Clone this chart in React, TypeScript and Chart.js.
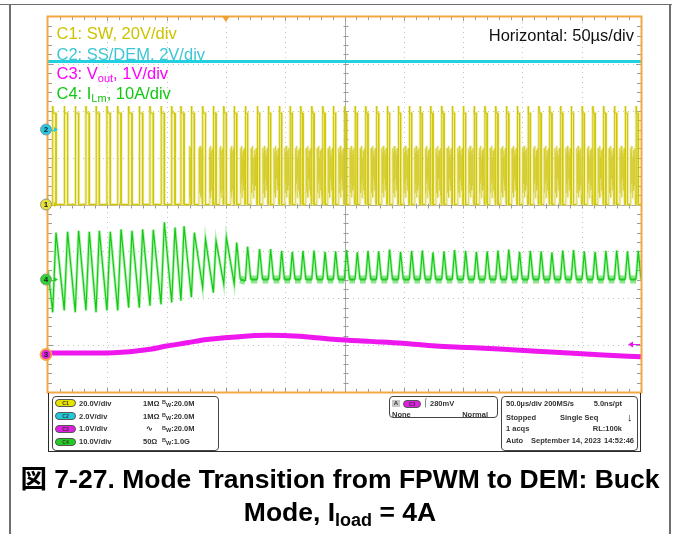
import React, { useEffect, useRef } from "react";
import { Chart, registerables } from "chart.js";
Chart.register(...registerables);

// ---------------- data ----------------
// time axis: 0..500 us (10 div x 50 us)
const pulseTimesUs = [
  3.96, 13.7, 23.0, 32.0, 40.5, 49.7, 58.8, 68.0, 77.0, 86.0,
  95.3, 104.3, 112.1, 120.9, 130.4, 139.4, 148.2, 157.0, 166.4, 176.5,
  185.8, 195.1, 204.1, 213.1, 222.4, 231.7, 240.6, 249.9, 258.9, 267.9,
  276.9, 286.1, 295.4, 304.7, 313.7, 322.7, 332.0, 340.9, 350.2, 359.3,
  368.4, 377.5, 386.6, 395.7, 404.8, 413.9, 423.0, 432.1, 441.2, 450.3,
  459.4, 468.5, 477.6, 486.7, 495.8,
];
const swOnUs = [
  2.8, 2.8, 2.8, 2.8, 2.8, 2.8, 2.8, 2.8, 2.8, 2.8,
  2.8, 2.8, 2.6, 2.5, 2.4, 2.3, 2.2, 2.1, 1.9, 1.9,
  1.9, 1.9, 1.9, 1.9, 1.9, 1.9, 1.9, 1.9, 1.9, 1.9,
  1.9, 1.9, 1.9, 1.9, 1.9, 1.9, 1.9, 1.9, 1.9, 1.9,
  1.9, 1.9, 1.9, 1.9, 1.9, 1.9, 1.9, 1.9, 1.9, 1.9,
  1.9, 1.9, 1.9, 1.9, 1.9,
];
const ilmPeakA = [
  10.0, 10.2, 10.4, 10.2, 10.4, 10.2, 10.7, 10.4, 10.7, 10.6,
  12.2, 11.1, 11.4, 10.0, 8.6, 8.2, 9.0, 7.9, 7.0, 6.5,
  6.5, 6.1, 5.9, 6.1, 6.2, 5.9, 6.0, 6.3, 5.8, 6.1,
  6.0, 6.4, 5.9, 6.1, 6.2, 5.8, 6.0, 6.3, 6.1, 5.9,
  6.0, 6.2, 6.4, 5.9, 6.1, 6.0, 5.8, 6.2, 6.3, 6.0,
  5.9, 6.1, 6.2, 6.0, 6.1,
];
const ilmValleyA = [
  -7.0, -6.6, -7.0, -6.6, -7.0, -6.6, -6.6, -6.0, -6.0, -5.6,
  -5.3, -4.9, -4.5, -3.8, -1.7, -2.8, -1.0, -1.0, -0.3, 0,
  0, 0, 0, 0, 0, 0, 0, 0, 0, 0,
  0, 0, 0, 0, 0, 0, 0, 0, 0, 0,
  0, 0, 0, 0, 0, 0, 0, 0, 0, 0,
  0, 0, 0, 0, 0,
];
const ilmStartA = 2.0;
const ilmFallAPerUs = 2.6;
const swHighV = 39;
const swEdgeV = 42;
const swRingV = [24, 5, 22, 9, 25, 3, 20, 11, 23, 6, 21, 8, 24, 4];
const ssDemLevelV = 2.9;
const voutTimesUs = [0, 44, 69, 86, 100, 117, 134, 156, 185, 212, 243, 271, 299, 327, 355, 384, 412, 439, 468, 500];
const voutV = [0.03, 0.03, 0.06, 0.11, 0.18, 0.25, 0.32, 0.37, 0.41, 0.39, 0.32, 0.28, 0.24, 0.18, 0.15, 0.11, 0.07, 0.03, -0.01, -0.05];
const timeSpanUs = 500;
const usPerDiv = 50;
const c1VPerDiv = 20;
const c2VPerDiv = 2;
const c3VPerDiv = 1;
const c4APerDiv = 10;
const c1PosDiv = 0;
const c2PosDiv = 1.6;
const c3PosDiv = -3.2;
const c4PosDiv = -1.6;
const triggerTimeUs = 150;
const trigArrowV = 0.22;

// labels
const chanBadges = ["C1", "C2", "C3", "C4"];
const chanScales = ["20.0V/div", "2.0V/div", "1.0V/div", "10.0V/div"];
const chanImp = ["1MΩ", "1MΩ", "∿", "50Ω"];
const chanBw = ["20.0M", "20.0M", "20.0M", "1.0G"];

// ---------------- styling ----------------
const FONT = "'Liberation Sans', Arial, Helvetica, sans-serif";
const COL = {
  c1: "#cfc600",
  c1Glow: "rgba(226,220,90,0.5)",
  c1Ring: "rgba(212,204,40,0.6)",
  c1RingGlow: "rgba(232,228,130,0.5)",
  c2: "#22d0e0",
  c3: "#ee18ee",
  c4: "#14c814",
  c4Glow: "rgba(110,232,110,0.5)",
  c4Flat: "rgba(50,210,50,0.55)",
  border: "#f2a742",
};

type P = { x: number; y: number; ring?: boolean; flat?: boolean };

function buildSw(): P[] {
  const pts: P[] = [{ x: 0, y: 0 }];
  const n = pulseTimesUs.length;
  for (let k = 0; k < n; k++) {
    const t = pulseTimesUs[k];
    const on = swOnUs[k];
    const next = k + 1 < n ? pulseTimesUs[k + 1] : timeSpanUs + 9;
    const vNext = k + 1 < n ? ilmValleyA[k + 1] : 0;
    pts.push({ x: t, y: 0 }, { x: t, y: swEdgeV }, { x: t + 0.4, y: swHighV }, { x: t + on, y: swHighV }, { x: t + on, y: 0 });
    if (vNext > -4) {
      const tz = t + on + ilmPeakA[k] / ilmFallAPerUs;
      const tEnd = next - 0.4;
      if (tz < tEnd) {
        pts.push({ x: tz, y: 0 });
        const m = swRingV.length;
        for (let i = 0; i < m; i++) pts.push({ x: tz + ((tEnd - tz) * (i + 1)) / (m + 1), y: swRingV[i], ring: true });
        pts.push({ x: tEnd, y: 0, ring: true });
      }
    }
    if (k === n - 1) pts.push({ x: next, y: 0 });
  }
  return pts.map((p) => ({ ...p, y: p.y / c1VPerDiv + c1PosDiv }));
}

function buildIlm(): P[] {
  const pts: P[] = [{ x: 0, y: ilmStartA }];
  const n = pulseTimesUs.length;
  for (let k = 0; k < n; k++) {
    const t = pulseTimesUs[k];
    const on = swOnUs[k];
    const peak = ilmPeakA[k];
    const next = k + 1 < n ? pulseTimesUs[k + 1] : timeSpanUs + 9;
    const vNext = k + 1 < n ? ilmValleyA[k + 1] : 0;
    pts.push({ x: t, y: ilmValleyA[k] }, { x: t + on, y: peak });
    if (vNext > -0.5) {
      const tz = t + on + peak / ilmFallAPerUs;
      pts.push({ x: tz, y: 0, flat: true });
      if (k === n - 1) pts.push({ x: next, y: 0 });
    } else if (k === n - 1) {
      pts.push({ x: next, y: vNext });
    }
  }
  return pts.map((p) => ({ ...p, y: p.y / c4APerDiv + c4PosDiv }));
}

function buildVout(): P[] {
  return voutTimesUs.map((t, i) => ({ x: t, y: voutV[i] / c3VPerDiv + c3PosDiv }));
}

function buildSs(): P[] {
  return [0, timeSpanUs].map((t) => ({ x: t, y: ssDemLevelV / c2VPerDiv + c2PosDiv }));
}

const scopePlugin = {
  id: "scopeDecor",
  beforeDatasetsDraw(chart: any) {
    const { ctx, chartArea: a, scales } = chart;
    const xs = scales.x;
    const ys = scales.y;
    const px = (v: number) => Math.round(xs.getPixelForValue(v)) + 0.5;
    const py = (v: number) => Math.round(ys.getPixelForValue(v)) + 0.5;
    ctx.save();
    ctx.fillStyle = "#ffffff";
    ctx.fillRect(a.left, a.top, a.right - a.left, a.bottom - a.top);
    ctx.lineWidth = 1;
    ctx.strokeStyle = "#c2c2c2";
    ctx.setLineDash([1, 4]);
    for (let i = 1; i < 10; i++) {
      if (i === 5) continue;
      const x = px(i * usPerDiv);
      ctx.beginPath(); ctx.moveTo(x, a.top); ctx.lineTo(x, a.bottom); ctx.stroke();
    }
    for (let j = -3; j <= 3; j++) {
      if (j === 0) continue;
      const y = py(j);
      ctx.beginPath(); ctx.moveTo(a.left, y); ctx.lineTo(a.right, y); ctx.stroke();
    }
    ctx.setLineDash([]);
    ctx.strokeStyle = "#a8a8a8";
    const cx = px(5 * usPerDiv);
    const cy = py(0);
    ctx.beginPath(); ctx.moveTo(cx, a.top); ctx.lineTo(cx, a.bottom); ctx.stroke();
    ctx.beginPath(); ctx.moveTo(a.left, cy); ctx.lineTo(a.right, cy); ctx.stroke();
    // ticks
    ctx.strokeStyle = "#9a9a9a";
    for (let m = 1; m < 50; m++) {
      const x = px(m * usPerDiv / 5);
      const major = m % 5 === 0;
      const L = major ? 4 : 3;
      ctx.beginPath();
      ctx.moveTo(x, cy - 2); ctx.lineTo(x, cy + 3);
      ctx.moveTo(x, a.top); ctx.lineTo(x, a.top + L);
      ctx.moveTo(x, a.bottom); ctx.lineTo(x, a.bottom - L);
      ctx.stroke();
    }
    for (let m = -19; m < 20; m++) {
      if (m === 0) continue;
      const y = py(m / 5);
      const major = m % 5 === 0;
      const L = major ? 5 : 4;
      ctx.beginPath();
      ctx.moveTo(cx - 2, y); ctx.lineTo(cx + 3, y);
      ctx.moveTo(a.left, y); ctx.lineTo(a.left + L, y);
      ctx.moveTo(a.right, y); ctx.lineTo(a.right - L, y);
      ctx.stroke();
    }
    ctx.restore();
  },
  afterDatasetsDraw(chart: any) {
    const { ctx, chartArea: a, scales } = chart;
    const xs = scales.x;
    const ys = scales.y;
    ctx.save();
    // orange frame
    ctx.strokeStyle = COL.border;
    ctx.lineWidth = 2;
    ctx.strokeRect(a.left - 0.5, a.top - 0.5, a.right - a.left + 1, a.bottom - a.top + 1);
    // trigger position marker
    const tx = xs.getPixelForValue(triggerTimeUs);
    ctx.fillStyle = "#f0a030";
    ctx.beginPath();
    ctx.moveTo(tx - 4, a.top - 1); ctx.lineTo(tx + 4, a.top - 1); ctx.lineTo(tx, a.top + 5); ctx.closePath(); ctx.fill();
    // trigger level arrow (C3)
    const ty = Math.round(ys.getPixelForValue(trigArrowV / c3VPerDiv + c3PosDiv)) + 0.5;
    ctx.strokeStyle = "#ee18ee";
    ctx.fillStyle = "#ee18ee";
    ctx.lineWidth = 1;
    ctx.beginPath(); ctx.moveTo(a.right - 1, ty); ctx.lineTo(a.right - 10, ty); ctx.stroke();
    ctx.beginPath(); ctx.moveTo(a.right - 13, ty); ctx.lineTo(a.right - 8, ty - 3); ctx.lineTo(a.right - 8, ty + 3); ctx.closePath(); ctx.fill();
    // channel markers
    const marks = [
      { pos: c2PosDiv, fill: "#27c9e0", ring: "#8a9aa0", lab: "2", arrow: "#27c9e0" },
      { pos: c1PosDiv, fill: "#e6e23a", ring: "#9a9a80", lab: "1", arrow: "#d0c800" },
      { pos: c4PosDiv, fill: "#2fd32f", ring: "#8a9a8a", lab: "4", arrow: "#22cc22" },
      { pos: c3PosDiv, fill: "#e422e4", ring: "#f2a742", lab: "3", arrow: "" },
    ];
    for (const mk of marks) {
      const y = ys.getPixelForValue(mk.pos);
      const x = a.left - 2;
      if (mk.arrow) {
        ctx.strokeStyle = mk.arrow; ctx.fillStyle = mk.arrow; ctx.lineWidth = 1;
        ctx.beginPath(); ctx.moveTo(x + 5, Math.round(y) + 0.5); ctx.lineTo(x + 9, Math.round(y) + 0.5); ctx.stroke();
        ctx.beginPath(); ctx.moveTo(x + 12, y); ctx.lineTo(x + 8, y - 2.5); ctx.lineTo(x + 8, y + 2.5); ctx.closePath(); ctx.fill();
      }
      ctx.beginPath(); ctx.arc(x, y, 5.5, 0, Math.PI * 2);
      ctx.fillStyle = mk.fill; ctx.fill();
      ctx.lineWidth = mk.lab === "3" ? 1.8 : 1; ctx.strokeStyle = mk.ring; ctx.stroke();
      ctx.fillStyle = "#1a1a2a"; ctx.font = `bold 8px ${FONT}`; ctx.textAlign = "center"; ctx.textBaseline = "middle";
      ctx.fillText(mk.lab, x, y + 0.5);
    }
    ctx.restore();
  },
};

function Txt(props: { x: number; cy: number; fs: number; color?: string; bold?: boolean; right?: boolean; children: any }) {
  const { x, cy, fs, color = "#222", bold = false, right = false, children } = props;
  const style: any = {
    position: "absolute",
    top: cy - fs / 2,
    fontSize: fs,
    lineHeight: `${fs}px`,
    fontFamily: FONT,
    fontWeight: bold ? 700 : 400,
    color,
    whiteSpace: "nowrap",
  };
  if (right) style.right = 676 - x;
  else style.left = x;
  return <div style={style}>{children}</div>;
}

function Badge(props: { x: number; cy: number; w: number; color: string; label: string }) {
  const { x, cy, w, color, label } = props;
  return (
    <div
      style={{
        position: "absolute", left: x, top: cy - 4, width: w, height: 8, borderRadius: 4,
        background: color, border: "0.5px solid #555", boxSizing: "border-box",
        fontFamily: FONT, fontSize: 5, lineHeight: "7px", fontWeight: 700, color: "#333", textAlign: "center",
      }}
    >
      {label}
    </div>
  );
}

export default function App() {
  const ref = useRef<HTMLCanvasElement | null>(null);
  useEffect(() => {
    if (!ref.current) return;
    const sw = buildSw();
    const ilm = buildIlm();
    const vout = buildVout();
    const ss = buildSs();
    const chart = new Chart(ref.current, {
      type: "scatter",
      data: {
        datasets: [
          { data: vout, showLine: true, borderColor: COL.c3, borderWidth: 5, pointRadius: 0, tension: 0.4, cubicInterpolationMode: "monotone" } as any,
          { data: ss, showLine: true, borderColor: COL.c2, borderWidth: 3, pointRadius: 0 } as any,
          {
            data: ilm, showLine: true, borderColor: COL.c4, borderWidth: 1.2, pointRadius: 0, parsing: false,
            segment: {
              borderColor: (c: any) => (ilm[c.p0DataIndex].flat ? "#1ec81e" : COL.c4),
              borderWidth: (c: any) => (ilm[c.p0DataIndex].flat ? 2 : 1.2),
            },
          } as any,
          {
            data: ilm, showLine: true, borderColor: COL.c4Glow, borderWidth: 3, pointRadius: 0, parsing: false,
            segment: {
              borderColor: (c: any) => (ilm[c.p0DataIndex].flat ? COL.c4Flat : COL.c4Glow),
              borderWidth: (c: any) => (ilm[c.p0DataIndex].flat ? 8 : 3),
            },
          } as any,
          {
            data: sw, showLine: true, borderColor: COL.c1, borderWidth: 1, pointRadius: 0, parsing: false,
            segment: { borderColor: (c: any) => (sw[c.p1DataIndex].ring ? COL.c1Ring : COL.c1) },
          } as any,
          {
            data: sw, showLine: true, borderColor: COL.c1Glow, borderWidth: 3, pointRadius: 0, parsing: false,
            segment: { borderColor: (c: any) => (sw[c.p1DataIndex].ring ? COL.c1RingGlow : COL.c1Glow) },
          } as any,
        ],
      },
      options: {
        animation: false,
        responsive: false,
        maintainAspectRatio: false,
        devicePixelRatio: 1,
        events: [],
        layout: { padding: { left: 48, top: 17, right: 35, bottom: 142 } },
        plugins: { legend: { display: false }, tooltip: { enabled: false } },
        scales: {
          x: { type: "linear", min: 0, max: timeSpanUs, display: false },
          y: { type: "linear", min: -4, max: 4, display: false },
        },
      },
      plugins: [scopePlugin],
    } as any);
    return () => chart.destroy();
  }, []);

  const rowsCy = [403.3, 416.3, 429, 441.5];
  const badgeCols = ["#e8e400", "#22c8dc", "#e020e0", "#22cc22"];
  const capFs = 26.5;

  return (
    <div style={{ position: "absolute", left: 0, top: 0, width: 676, height: 534, background: "#fff", overflow: "hidden" }}>
      {/* outer document frame */}
      <div style={{ position: "absolute", left: 0, top: 4, width: 672, height: 0, borderTop: "1.5px solid #6e6e6e" }} />
      <div style={{ position: "absolute", left: 9, top: 4, width: 0, height: 540, borderLeft: "2px solid #6e6e6e" }} />
      <div style={{ position: "absolute", left: 669, top: 4, width: 0, height: 540, borderLeft: "2px solid #6e6e6e" }} />

      <canvas ref={ref} width={676} height={534} style={{ position: "absolute", left: 0, top: 0 }} />

      {/* in-screen annotations */}
      <Txt x={56.5} cy={33.3} fs={16.5} color="#cdc400">C1: SW, 20V/div</Txt>
      <Txt x={56.5} cy={53.8} fs={16.5} color="#3cc6d6">C2: SS/DEM, 2V/div</Txt>
      <Txt x={56.5} cy={72.8} fs={16.5} color="#ff00ff">
        C3: V<span style={{ fontSize: 11, position: "relative", top: 3 }}>out</span>, 1V/div
      </Txt>
      <Txt x={56.5} cy={93.3} fs={16.5} color="#11c811">
        C4: I<span style={{ fontSize: 11, position: "relative", top: 3 }}>Lm</span>, 10A/div
      </Txt>
      <Txt x={634} cy={35} fs={16.5} color="#111" right>Horizontal: 50µs/div</Txt>

      {/* bottom info panel */}
      <div style={{ position: "absolute", left: 48, top: 393, width: 593, height: 59, borderLeft: "1.5px solid #2a2a2a", borderRight: "1.5px solid #2a2a2a", borderBottom: "1.5px solid #2a2a2a", boxSizing: "border-box" }} />
      <div style={{ position: "absolute", left: 52, top: 396, width: 167, height: 55, border: "1px solid #444", borderRadius: 4, boxSizing: "border-box" }} />
      {chanBadges.map((b, i) => (
        <React.Fragment key={b}>
          <Badge x={55} cy={rowsCy[i]} w={21} color={badgeCols[i]} label={b} />
          <Txt x={79} cy={rowsCy[i]} fs={7.5} bold color="#333">{chanScales[i]}</Txt>
          <Txt x={i === 2 ? 146 : 143} cy={rowsCy[i]} fs={7.5} bold color="#333">{chanImp[i]}</Txt>
          <Txt x={162} cy={rowsCy[i]} fs={7.5} bold color="#333">
            <span style={{ fontSize: 5.5, position: "relative", top: -1.5 }}>B</span>
            <span style={{ fontSize: 5.5, position: "relative", top: 1 }}>W</span>:{chanBw[i]}
          </Txt>
        </React.Fragment>
      ))}

      <div style={{ position: "absolute", left: 389, top: 396, width: 109, height: 22, border: "1px solid #444", borderRadius: 4, boxSizing: "border-box" }} />
      <div style={{ position: "absolute", left: 392, top: 400, width: 8, height: 7, background: "#c8c8c8", fontFamily: FONT, fontSize: 6, lineHeight: "7px", fontWeight: 700, color: "#333", textAlign: "center" }}>A</div>
      <Badge x={403} cy={403.5} w={18} color="#e020e0" label="C3" />
      <Txt x={423} cy={403.3} fs={8} bold color="#333">⌠</Txt>
      <Txt x={430} cy={403.3} fs={7.5} bold color="#333">280mV</Txt>
      <Txt x={392} cy={414.3} fs={7.5} bold color="#333">None</Txt>
      <Txt x={488} cy={414.3} fs={7.5} bold color="#333" right>Normal</Txt>

      <div style={{ position: "absolute", left: 501, top: 396, width: 137, height: 55, border: "1px solid #444", borderRadius: 4, boxSizing: "border-box" }} />
      <Txt x={506} cy={404} fs={7.5} bold color="#333">50.0µs/div</Txt>
      <Txt x={544} cy={404} fs={7.5} bold color="#333">200MS/s</Txt>
      <Txt x={622} cy={404} fs={7.5} bold color="#333" right>5.0ns/pt</Txt>
      <Txt x={506} cy={417.3} fs={7.5} bold color="#333">Stopped</Txt>
      <Txt x={560} cy={417.3} fs={7.5} bold color="#333">Single Seq</Txt>
      <Txt x={627} cy={417.5} fs={11} bold color="#222">↓</Txt>
      <Txt x={506} cy={429} fs={7.5} bold color="#333">1 acqs</Txt>
      <Txt x={622} cy={429} fs={7.5} bold color="#333" right>RL:100k</Txt>
      <Txt x={506} cy={441} fs={7.5} bold color="#333">Auto</Txt>
      <Txt x={531} cy={441} fs={7.5} bold color="#333">September 14, 2023</Txt>
      <Txt x={634} cy={441} fs={7.5} bold color="#333" right>14:52:46</Txt>

      {/* caption */}
      <div style={{ position: "absolute", left: 10, width: 660, top: 479 - capFs / 2, fontFamily: `${FONT}, 'Noto Sans CJK JP'`, fontWeight: 700, fontSize: capFs, lineHeight: `${capFs}px`, textAlign: "center", color: "#000", whiteSpace: "nowrap" }}>
        図 7-27. Mode Transition from FPWM to DEM: Buck
      </div>
      <div style={{ position: "absolute", left: 10, width: 660, top: 512 - capFs / 2, fontFamily: `${FONT}, 'Noto Sans CJK JP'`, fontWeight: 700, fontSize: capFs, lineHeight: `${capFs}px`, textAlign: "center", color: "#000", whiteSpace: "nowrap" }}>
        Mode, I<span style={{ fontSize: 18, position: "relative", top: 5 }}>load</span> = 4A
      </div>
    </div>
  );
}
